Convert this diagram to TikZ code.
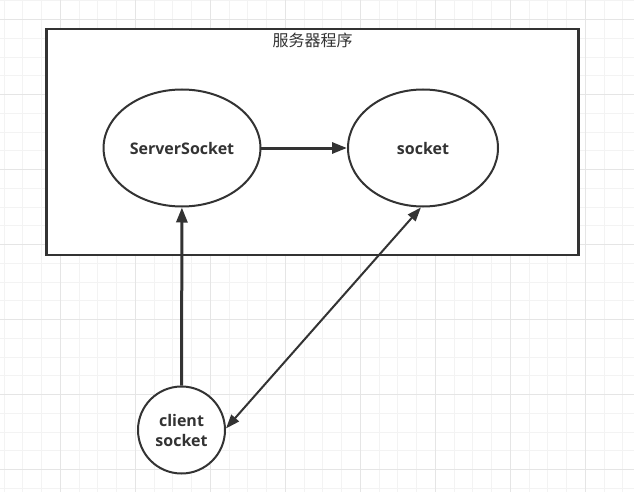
\documentclass[tikz,border=0pt]{standalone}
\usepackage{fontspec}
\setmainfont{Open Sans}
\newfontfamily\cjk{Noto Sans CJK SC}
\usetikzlibrary{shapes.geometric,positioning,arrows.meta}
\definecolor{ink}{HTML}{333333}
\definecolor{gridminor}{HTML}{F3F3F3}
\definecolor{gridmajor}{HTML}{E5E5E5}

\begin{document}
\begin{tikzpicture}[x=1pt,y=-1pt,
  minorline/.style={gridminor,line width=1pt},
  majorline/.style={gridmajor,line width=1pt},
  frame/.style={rectangle,draw=ink,fill=white,line width=2.5pt,minimum width=532pt,minimum height=226pt},
  oval/.style={ellipse,draw=ink,fill=white,line width=2pt,minimum width=150pt,minimum height=117pt,text=ink,font=\bfseries\fontsize{16}{20}\selectfont},
  round/.style={circle,draw=ink,fill=white,line width=2pt,minimum size=87pt,inner sep=0pt,align=center,text=ink,font=\bfseries\fontsize{16}{20}\selectfont},
  link/.style={draw=ink,line width=3pt,-{Triangle[length=15pt,width=11pt]}},
  duplex/.style={draw=ink,line width=2pt,{Triangle[length=14pt,width=10pt]}-{Triangle[length=14pt,width=10pt]}}]
\useasboundingbox (0,0) rectangle (634,492);
\fill[white] (0,0) rectangle (634,492);
% background grid
\foreach \i in {0,...,33}
  \draw[minorline] ({4.05+18.75*\i},0) -- ({4.05+18.75*\i},492);
\foreach \i in {0,...,26}
  \draw[minorline] (0,{0.95+18.75*\i}) -- (634,{0.95+18.75*\i});
\foreach \i in {0,...,7}
  \draw[majorline] ({60.3+75*\i},0) -- ({60.3+75*\i},492);
\foreach \i in {0,...,6}
  \draw[majorline] (0,{19.7+75*\i}) -- (634,{19.7+75*\i});

\node (app) [frame] at (312.5,142) {};
\node (title) at (312.5,40) {\cjk\fontsize{16}{20}\selectfont\color{ink}服务器程序};
\node (server) [oval] at (182,148) {ServerSocket};
\node (socket) [oval] at (423,148) {socket};
\node (client) [round] at (181.5,430) {client\\socket};

\draw[link] (server) -- (socket);
\draw[link] (client) -- (server);
\draw[duplex] (socket.-92) -- (client.2);
\end{tikzpicture}
\end{document}
